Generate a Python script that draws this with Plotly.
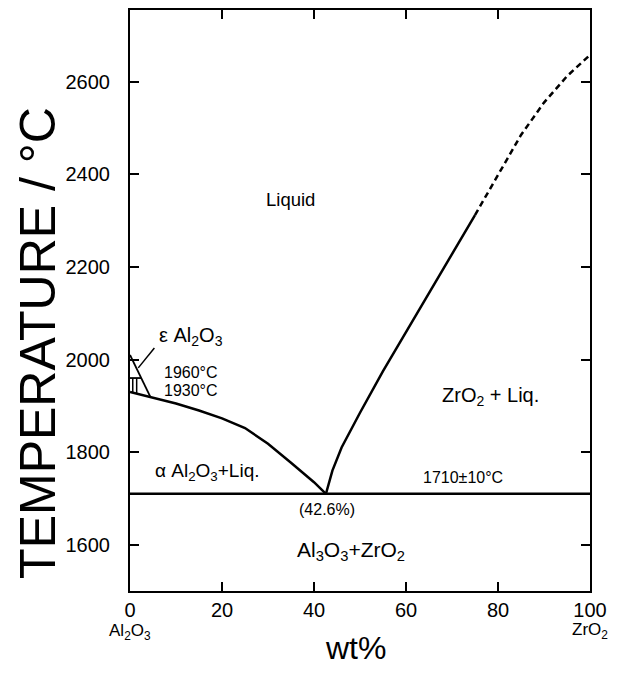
import plotly.graph_objects as go

# ---- data (wt% ZrO2, temperature in °C) ----
liq_left_x = [0, 5, 10, 15, 20, 25, 30, 35, 40, 42.6]
liq_left_t = [1930, 1918, 1905, 1890, 1873, 1852, 1818, 1777, 1735, 1710]

liq_right_x = [42.6, 44, 46, 50, 55, 60, 65, 70, 75]
liq_right_t = [1710, 1760, 1810, 1885, 1975, 2060, 2145, 2230, 2312]

liq_dash_x = [75, 80, 85, 90, 95, 100]
liq_dash_t = [2312, 2400, 2485, 2555, 2612, 2658]

eutectic_x = [0, 100]
eutectic_t = [1710, 1710]

eps_a_x = [0, 4.4]
eps_a_t = [2010, 1920]
eps_mid_x = [0, 2.4]
eps_mid_t = [1960, 1960]
eps_v1_x = [0.6, 0.6]
eps_v1_t = [1960, 1928]
eps_v2_x = [1.45, 1.45]
eps_v2_t = [1960, 1926]
leader_x = [1.8, 5.3]
leader_t = [1982, 2025]

x_ticks = [0, 20, 40, 60, 80, 100]
y_ticks = [1600, 1800, 2000, 2200, 2400, 2600]

FONT = "Liberation Sans, Arial, sans-serif"
BLK = "black"

fig = go.Figure()


def line(x, y, w=2.5, dash="solid"):
    fig.add_trace(go.Scatter(x=x, y=y, mode="lines", showlegend=False,
                             line=dict(color=BLK, width=w, dash=dash),
                             hoverinfo="skip"))


line(liq_left_x, liq_left_t)
line(liq_right_x, liq_right_t)
line(liq_dash_x, liq_dash_t, dash="6px,4px")
line(eutectic_x, eutectic_t, w=2.5)
line(eps_a_x, eps_a_t, w=1.8)
line(eps_mid_x, eps_mid_t, w=1.8)
line(eps_v1_x, eps_v1_t, w=1.5)
line(eps_v2_x, eps_v2_t, w=1.5)
line(leader_x, leader_t, w=1.5)

ann = [
    dict(x=34.9, y=2346, text="Liquid", size=18.5),
    dict(x=78.4, y=1920, text="ZrO<sub>2</sub> + Liq.", size=20),
    dict(x=16.8, y=1757, text="α Al<sub>2</sub>O<sub>3</sub>+Liq.", size=19),
    dict(x=72.3, y=1745, text="1710±10°C", size=16),
    dict(x=42.9, y=1675, text="(42.6%)", size=16),
    dict(x=48, y=1587, text="Al<sub>3</sub>O<sub>3</sub>+ZrO<sub>2</sub>", size=21),
    dict(x=13.2, y=2049, text="ε Al<sub>2</sub>O<sub>3</sub>", size=20),
    dict(x=13.2, y=1972, text="1960°C", size=16),
    dict(x=13.2, y=1933, text="1930°C", size=16),
]
for a in ann:
    fig.add_annotation(x=a["x"], y=a["y"], text=a["text"], showarrow=False,
                       font=dict(family=FONT, size=a["size"], color=BLK),
                       xanchor="center", yanchor="middle")

# axis end labels and titles
fig.add_annotation(x=0, y=-0.071, xref="x", yref="paper", text="Al<sub>2</sub>O<sub>3</sub>",
                   showarrow=False, font=dict(family=FONT, size=17, color=BLK),
                   xanchor="center", yanchor="middle")
fig.add_annotation(x=100, y=-0.069, xref="x", yref="paper", text="ZrO<sub>2</sub>",
                   showarrow=False, font=dict(family=FONT, size=17, color=BLK),
                   xanchor="center", yanchor="middle")
fig.add_annotation(x=0.49, y=-0.098, xref="paper", yref="paper", text="wt%",
                   showarrow=False, font=dict(family=FONT, size=32, color=BLK),
                   xanchor="center", yanchor="middle")
fig.add_annotation(x=-0.2, y=0.427, xref="paper", yref="paper", text="TEMPERATURE / °C",
                   textangle=-90, showarrow=False,
                   font=dict(family=FONT, size=50, color=BLK),
                   xanchor="center", yanchor="middle")

axis_common = dict(showline=True, linecolor=BLK, linewidth=2, mirror="allticks",
                   ticks="inside", ticklen=9, tickwidth=2, tickcolor=BLK,
                   showgrid=False, zeroline=False,
                   tickfont=dict(family=FONT, size=20, color=BLK))

fig.update_xaxes(range=[0, 100], tickvals=x_ticks, ticktext=[str(v) for v in x_ticks],
                 ticklabelstandoff=0, **axis_common)
fig.update_yaxes(range=[1500, 2755], tickvals=y_ticks, ticktext=[str(v) for v in y_ticks],
                 ticklabelstandoff=14, **axis_common)

fig.update_layout(width=618, height=673, margin=dict(l=130, r=28, t=8, b=82),
                  plot_bgcolor="white", paper_bgcolor="white", showlegend=False)

fig.write_html("out.html")
